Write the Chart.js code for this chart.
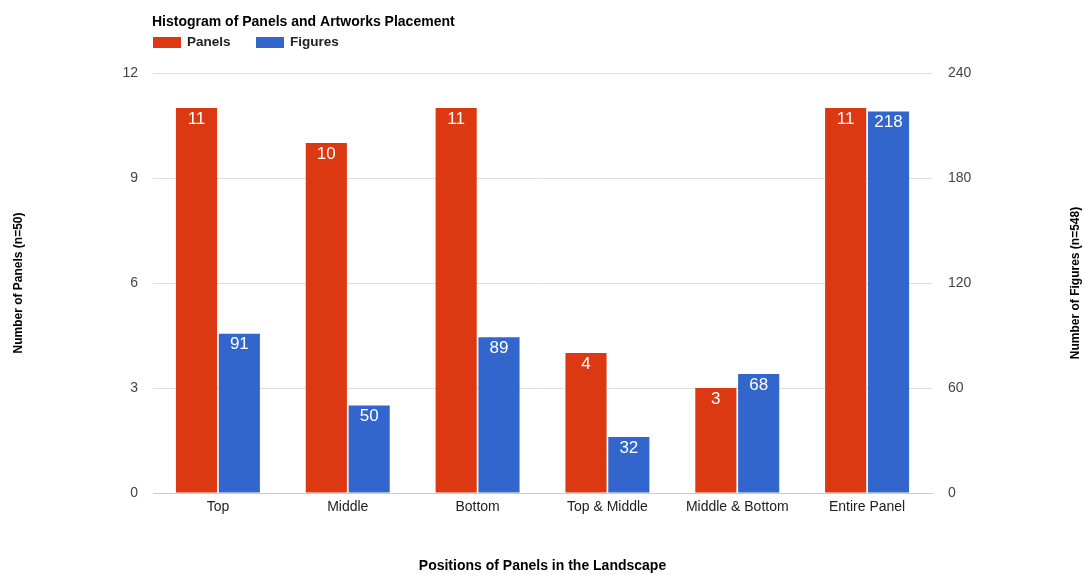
<!DOCTYPE html>
<html>
<head>
<meta charset="utf-8">
<script src="https://cdn.jsdelivr.net/npm/chart.js@4/dist/chart.umd.min.js"></script>
<style>
  html, body { margin: 0; padding: 0; background: #fff; }
  #wrap { width: 1085px; height: 575px; }
</style>
</head>
<body>
<div id="wrap"><canvas id="histChart"></canvas></div>
<script>
// data
const categories = ['Top', 'Middle', 'Bottom', 'Top & Middle', 'Middle & Bottom', 'Entire Panel'];
const panelCounts = [11, 10, 11, 4, 3, 11];
const figureCounts = [91, 50, 89, 32, 68, 218];
const panelTicks = [0, 3, 6, 9, 12];
const figureTicks = [0, 60, 120, 180, 240];

const RED = '#dc3912';
const BLUE = '#3366cc';
const FONT = 'Arial, "Liberation Sans", sans-serif';

// title + legend drawn top left, google-chart style
const headerPlugin = {
  id: 'header',
  afterDraw(chart) {
    const c = chart.ctx;
    c.save();
    c.fillStyle = '#000';
    c.font = 'bold 14px ' + FONT;
    c.textBaseline = 'middle';
    c.textAlign = 'left';
    c.fillText('Histogram of Panels and Artworks Placement', 152, 22.5);
    let x = 153;
    chart.data.datasets.forEach(ds => {
      c.fillStyle = ds.backgroundColor;
      c.fillRect(x, 37, 28, 11);
      c.fillStyle = '#222';
      c.font = 'bold 13.5px ' + FONT;
      c.fillText(ds.label, x + 34, 42.5);
      x += 103;
    });
    // right axis title reads bottom-to-top like the left one
    const yr = chart.scales.yFigures;
    c.translate(1076, (chart.chartArea.top + chart.chartArea.bottom) / 2);
    c.rotate(-Math.PI / 2);
    c.textAlign = 'center';
    c.fillStyle = '#000';
    c.font = 'bold 12px ' + FONT;
    c.fillText(yr.options.titleText, 0, 0);
    c.restore();
  }
};

// value labels inside top of each bar
const barLabelPlugin = {
  id: 'barLabels',
  afterDatasetsDraw(chart) {
    const c = chart.ctx;
    c.save();
    c.fillStyle = '#fff';
    c.font = '17px ' + FONT;
    c.textAlign = 'center';
    c.textBaseline = 'middle';
    chart.data.datasets.forEach((ds, i) => {
      chart.getDatasetMeta(i).data.forEach((bar, j) => {
        c.fillText(String(ds.data[j]), bar.x, bar.y + 11);
      });
    });
    c.restore();
  }
};

new Chart(document.getElementById('histChart'), {
  type: 'bar',
  data: {
    labels: categories,
    datasets: [
      {
        label: 'Panels',
        data: panelCounts,
        backgroundColor: RED,
        yAxisID: 'yPanels',
        categoryPercentage: 0.66,
        barPercentage: 0.96
      },
      {
        label: 'Figures',
        data: figureCounts,
        backgroundColor: BLUE,
        yAxisID: 'yFigures',
        categoryPercentage: 0.66,
        barPercentage: 0.96
      }
    ]
  },
  options: {
    responsive: true,
    maintainAspectRatio: false,
    animation: false,
    layout: { padding: { top: 73, left: 0, right: 0, bottom: 0 } },
    plugins: {
      legend: { display: false },
      title: { display: false },
      tooltip: { enabled: false }
    },
    scales: {
      x: {
        grid: { display: false, drawTicks: false },
        border: { color: '#cccccc' },
        ticks: { color: '#222', font: { family: FONT, size: 14 }, padding: 6, maxRotation: 0 },
        title: {
          display: true,
          text: 'Positions of Panels in the Landscape',
          color: '#000',
          font: { family: FONT, size: 14, weight: 'bold' },
          padding: { top: 0, bottom: 0 }
        },
        afterFit(scale) { scale.height = 82; }
      },
      yPanels: {
        position: 'left',
        min: 0,
        max: 12,
        afterBuildTicks(scale) { scale.ticks = panelTicks.map(v => ({ value: v })); },
        grid: { color: '#e0e0e0', drawTicks: false },
        border: { display: false },
        ticks: { color: '#444', font: { family: FONT, size: 14 }, padding: 15 },
        title: {
          display: true,
          text: 'Number of Panels (n=50)',
          color: '#000',
          font: { family: FONT, size: 12, weight: 'bold' },
          padding: { top: 11, bottom: 0 }
        },
        afterFit(scale) { scale.width = 153; }
      },
      yFigures: {
        position: 'right',
        min: 0,
        max: 240,
        titleText: 'Number of Figures (n=548)',
        afterBuildTicks(scale) { scale.ticks = figureTicks.map(v => ({ value: v })); },
        grid: { drawOnChartArea: false, drawTicks: false },
        border: { display: false },
        ticks: { color: '#444', font: { family: FONT, size: 14 }, padding: 16 },
        title: { display: false },
        afterFit(scale) { scale.width = 153; }
      }
    }
  },
  plugins: [headerPlugin, barLabelPlugin]
});
</script>
</body>
</html>
